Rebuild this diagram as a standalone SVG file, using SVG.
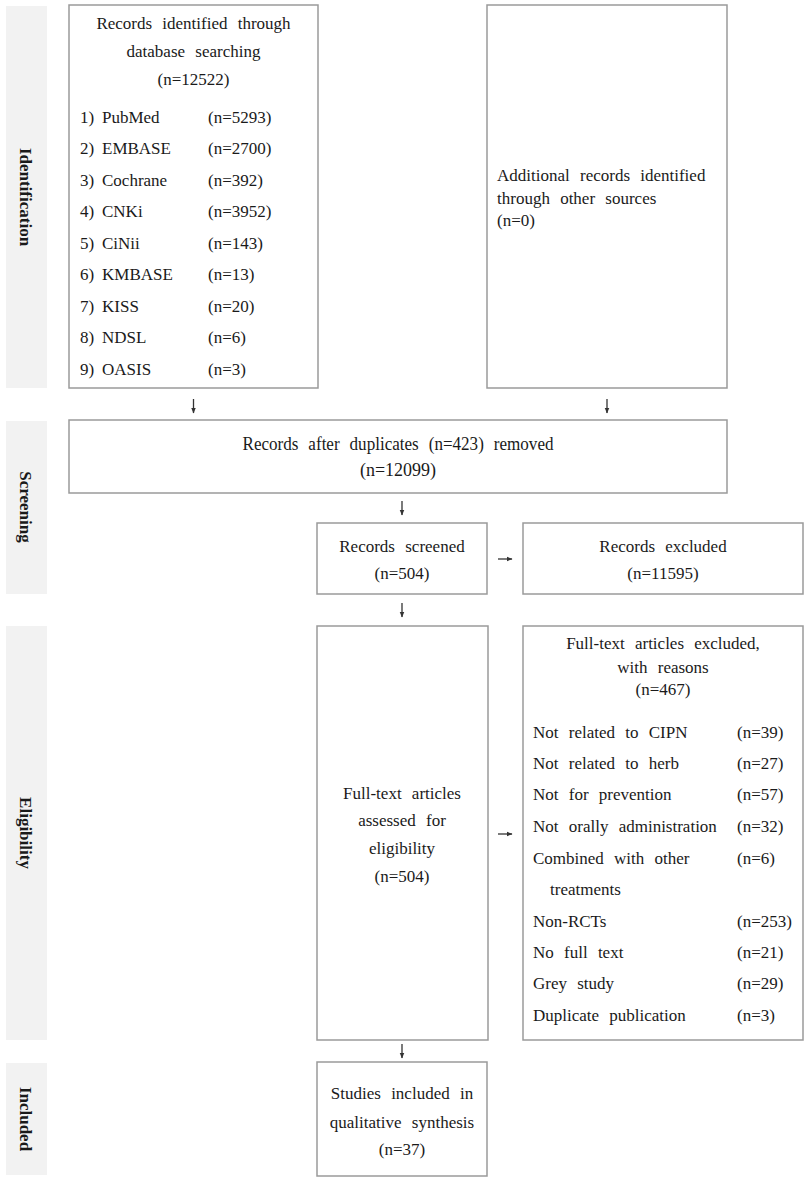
<svg xmlns="http://www.w3.org/2000/svg" width="809" height="1183" viewBox="0 0 809 1183">
<style>
text{font-family:"Liberation Serif","Times New Roman",serif;font-size:17px;fill:#1a1a1a;word-spacing:6px}
.c{text-anchor:middle}
.lbl{font-weight:bold;font-size:17px;text-anchor:middle;word-spacing:0}
.bar{fill:#f2f2f2}
.box{fill:#fff;stroke:#9a9a9a;stroke-width:1.5}
.arr{stroke:#333;stroke-width:1.3;fill:none}
</style>
<defs>
<marker id="ah" viewBox="0 0 10 10" refX="9" refY="5" markerWidth="6" markerHeight="6" orient="auto" markerUnits="userSpaceOnUse">
<path d="M0,1 L10,5 L0,9 Z" fill="#333"/>
</marker>
</defs>
<rect width="809" height="1183" fill="#fff"/>

<g id="phase-identification">
<rect class="bar" x="6" y="6" width="41" height="382"/>
<text class="lbl" transform="translate(26,197) rotate(90)" y="6">Identification</text>
</g>
<g id="phase-screening">
<rect class="bar" x="6" y="421" width="41" height="173"/>
<text class="lbl" transform="translate(26,507) rotate(90)" y="6">Screening</text>
</g>
<g id="phase-eligibility">
<rect class="bar" x="6" y="626" width="41" height="414"/>
<text class="lbl" transform="translate(26,833) rotate(90)" y="6">Eligibility</text>
</g>
<g id="phase-included">
<rect class="bar" x="6" y="1063" width="41" height="112"/>
<text class="lbl" transform="translate(26,1119) rotate(90)" y="6">Included</text>
</g>

<g id="db-search">
<rect class="box" x="69" y="5" width="249" height="383"/>
<text class="c" x="193.5" y="29">Records identified through</text>
<text class="c" x="193.5" y="57">database searching</text>
<text class="c" x="193.5" y="85">(n=12522)</text>
<text x="80" y="122.5">1)</text><text x="102" y="122.5">PubMed</text><text x="208" y="122.5">(n=5293)</text>
<text x="80" y="154">2)</text><text x="102" y="154">EMBASE</text><text x="208" y="154">(n=2700)</text>
<text x="80" y="185.5">3)</text><text x="102" y="185.5">Cochrane</text><text x="208" y="185.5">(n=392)</text>
<text x="80" y="217">4)</text><text x="102" y="217">CNKi</text><text x="208" y="217">(n=3952)</text>
<text x="80" y="248.5">5)</text><text x="102" y="248.5">CiNii</text><text x="208" y="248.5">(n=143)</text>
<text x="80" y="280">6)</text><text x="102" y="280">KMBASE</text><text x="208" y="280">(n=13)</text>
<text x="80" y="311.5">7)</text><text x="102" y="311.5">KISS</text><text x="208" y="311.5">(n=20)</text>
<text x="80" y="343">8)</text><text x="102" y="343">NDSL</text><text x="208" y="343">(n=6)</text>
<text x="80" y="374.5">9)</text><text x="102" y="374.5">OASIS</text><text x="208" y="374.5">(n=3)</text>
</g>

<g id="other-sources">
<rect class="box" x="487" y="5" width="240" height="383"/>
<text x="497" y="180.5">Additional records identified</text>
<text x="497" y="203.5">through other sources</text>
<text x="497" y="226">(n=0)</text>
</g>

<g id="after-duplicates">
<rect class="box" x="69" y="420" width="658" height="73"/>
<text class="c" x="398" y="449.5" style="font-size:18px" textLength="311" lengthAdjust="spacingAndGlyphs">Records after duplicates (n=423) removed</text>
<text class="c" x="398" y="476" style="font-size:18px">(n=12099)</text>
</g>

<g id="screened">
<rect class="box" x="317" y="523" width="170" height="71"/>
<text class="c" x="402" y="551.5">Records screened</text>
<text class="c" x="402" y="578.5">(n=504)</text>
</g>

<g id="excluded">
<rect class="box" x="523" y="523" width="280" height="71"/>
<text class="c" x="663" y="551.5">Records excluded</text>
<text class="c" x="663" y="578.5">(n=11595)</text>
</g>

<g id="assessed">
<rect class="box" x="317" y="626" width="171" height="414"/>
<text class="c" x="402" y="798.5">Full-text articles</text>
<text class="c" x="402" y="825.5">assessed for</text>
<text class="c" x="402" y="853.5">eligibility</text>
<text class="c" x="402" y="881.5">(n=504)</text>
</g>

<g id="fulltext-excluded">
<rect class="box" x="523" y="626" width="280" height="414"/>
<text class="c" x="663" y="648.5">Full-text articles excluded,</text>
<text class="c" x="663" y="672.5">with reasons</text>
<text class="c" x="663" y="695">(n=467)</text>
<text x="533" y="737.5">Not related to CIPN</text><text x="737" y="737.5">(n=39)</text>
<text x="533" y="768.5">Not related to herb</text><text x="737" y="768.5">(n=27)</text>
<text x="533" y="799.5">Not for prevention</text><text x="737" y="799.5">(n=57)</text>
<text x="533" y="831.5">Not orally administration</text><text x="737" y="831.5">(n=32)</text>
<text x="533" y="863.5">Combined with other</text><text x="737" y="863.5">(n=6)</text>
<text x="550" y="894.5">treatments</text>
<text x="533" y="926.5">Non-RCTs</text><text x="737" y="926.5">(n=253)</text>
<text x="533" y="957.5">No full text</text><text x="737" y="957.5">(n=21)</text>
<text x="533" y="988.5">Grey study</text><text x="737" y="988.5">(n=29)</text>
<text x="533" y="1020.5">Duplicate publication</text><text x="737" y="1020.5">(n=3)</text>
</g>

<g id="included">
<rect class="box" x="317" y="1062" width="170" height="114"/>
<text class="c" x="402" y="1098.5">Studies included in</text>
<text class="c" x="402" y="1127.5">qualitative synthesis</text>
<text class="c" x="402" y="1155">(n=37)</text>
</g>

<g id="connectors">
<line class="arr" x1="193.5" y1="399" x2="193.5" y2="413" marker-end="url(#ah)"/>
<line class="arr" x1="607" y1="399" x2="607" y2="413" marker-end="url(#ah)"/>
<line class="arr" x1="402" y1="501" x2="402" y2="515" marker-end="url(#ah)"/>
<line class="arr" x1="402" y1="603" x2="402" y2="617" marker-end="url(#ah)"/>
<line class="arr" x1="402" y1="1044" x2="402" y2="1058" marker-end="url(#ah)"/>
<line class="arr" x1="498" y1="559" x2="512" y2="559" marker-end="url(#ah)"/>
<line class="arr" x1="498" y1="834" x2="512" y2="834" marker-end="url(#ah)"/>
</g>
</svg>
